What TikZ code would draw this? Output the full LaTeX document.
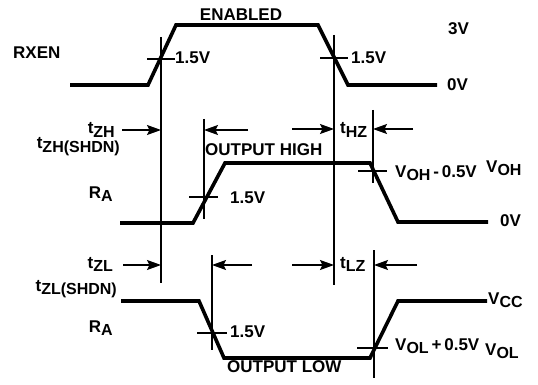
\documentclass[tikz,border=0pt]{standalone}
\usepackage{fontspec}
\setmainfont{Liberation Sans}
\usetikzlibrary{arrows.meta}

% signal name with lowered subscript
\newcommand{\sig}[2]{#1\raisebox{-3.5pt}{\fontsize{16}{16}\selectfont #2}}

\begin{document}
\begin{tikzpicture}[x=1pt, y=-1pt, line join=miter, >={Stealth[length=14pt,width=10pt,inset=2.5pt]},
		wave/.style={line width=3.6pt},
		guide/.style={line width=1.3pt},
		lbl/.style={font=\bfseries\fontsize{17}{17}\selectfont, inner sep=0pt}]
		\useasboundingbox (0,0) rectangle (538,385);
		
		% Marker positions
		\def\xa{161} \def\xb{334} \def\xc{204} \def\xd{373} \def\xe{212}
		
		% RXEN waveform
		\draw[wave] (70,85) -- (148,85) -- (176,25) -- (318,25) -- (348,85) -- (437,85);
		% R_A, output high
		\draw[wave] (120,223) -- (193,223) -- (225,163) -- (370,163) -- (398,222) -- (488,222);
		% R_A, output low
		\draw[wave] (121,301) -- (199,301) -- (224,358) -- (370,358) -- (398,301) -- (487,301);
		
		% Vertical reference lines
		\draw[guide] (\xa,37) -- (\xa,283);
		\draw[guide] (\xb,35) -- (\xb,285);
		\draw[guide] (\xc,119) -- (\xc,219);
		\draw[guide] (\xd,110) -- (\xd,183);
		\draw[guide] (\xe,255) -- (\xe,350);
		\draw[guide] (\xd+1,250) -- (\xd+1,378);
		
		% Threshold ticks
		\draw[guide] (147,59) -- (175,59);
		\draw[guide] (320,58) -- (348,58);
		\draw[guide] (189,197) -- (218,197);
		\draw[guide] (358,171) -- (387,171);
		\draw[guide] (197,333) -- (227,333);
		\draw[guide] (357,348) -- (388,348);
		
		% Arrow end points
		\coordinate (zh) at (\xa,130);  \coordinate (zhs) at (122,130);
		\coordinate (oh) at (\xc,130);  \coordinate (ohs) at (248,130);
		\coordinate (hz) at (\xb,129);  \coordinate (hzs) at (292,129);
		\coordinate (hze) at (\xd,129); \coordinate (hzes) at (413,129);
		\coordinate (zl) at (\xa,265);  \coordinate (zls) at (123,265);
		\coordinate (ol) at (\xe,265);  \coordinate (ols) at (252,265);
		\coordinate (lz) at (\xb,265);  \coordinate (lzs) at (292,265);
		\coordinate (lze) at (\xd+1,265); \coordinate (lzes) at (417,265);
		
		% Timing arrows
		\draw[guide, ->] (zhs) -- (zh);
		\draw[guide, ->] (ohs) -- (oh);
		\draw[guide, ->] (hzs) -- (hz);
		\draw[guide, ->] (hzes) -- (hze);
		\draw[guide, ->] (zls) -- (zl);
		\draw[guide, ->] (ols) -- (ol);
		\draw[guide, ->] (lzs) -- (lz);
		\draw[guide, ->] (lzes) -- (lze);
		
		% Labels, RXEN
		\node[lbl, anchor=base] (enabled) at (241,20.5) {ENABLED};
		\node[lbl, anchor=base west] (rxen) at (13,59) {RXEN};
		\node[lbl, anchor=base west] (v3) at (448,35) {3V};
		\node[lbl, anchor=base west] (v0a) at (447,91) {0V};
		\node[lbl, anchor=base west] (thra) at (175,64) {1.5V};
		\node[lbl, anchor=base west] (thrb) at (351,64) {1.5V};
		
		% Labels, output high
		\node[lbl, anchor=base east] (tzh) at (115,134) {\sig{t}{ZH}};
		\node[lbl, anchor=base east] (tzhs) at (120,149) {\sig{t}{ZH(SHDN)}};
		\node[lbl, anchor=base east] (raa) at (113,198) {\sig{R}{A}};
		\node[lbl, anchor=base west] (high) at (205,156) {OUTPUT HIGH};
		\node[lbl, anchor=base west] (thrc) at (230,203) {1.5V};
		\node[lbl, anchor=base west] (thz) at (340,134) {\sig{t}{HZ}};
		\node[lbl, anchor=base west] (voha) at (395,177) {\sig{V}{OH}\,-\,0.5V};
		\node[lbl, anchor=base west] (vohb) at (486,172) {\sig{V}{OH}};
		\node[lbl, anchor=base west] (v0b) at (500,226) {0V};
		
		% Labels, output low
		\node[lbl, anchor=base east] (tzl) at (113,268) {\sig{t}{ZL}};
		\node[lbl, anchor=base east] (tzls) at (117,291) {\sig{t}{ZL(SHDN)}};
		\node[lbl, anchor=base east] (rab) at (113,332) {\sig{R}{A}};
		\node[lbl, anchor=base west] (thrd) at (230,337) {1.5V};
		\node[lbl, anchor=base west] (low) at (227,372) {OUTPUT LOW};
		\node[lbl, anchor=base west] (tlz) at (340,268) {\sig{t}{LZ}};
		\node[lbl, anchor=base west] (vcc) at (488,304) {\sig{V}{CC}};
		\node[lbl, anchor=base west] (vola) at (395,350) {\sig{V}{OL}\,+\,0.5V};
		\node[lbl, anchor=base west] (volb) at (485,355) {\sig{V}{OL}};
	\end{tikzpicture}
\end{document}
